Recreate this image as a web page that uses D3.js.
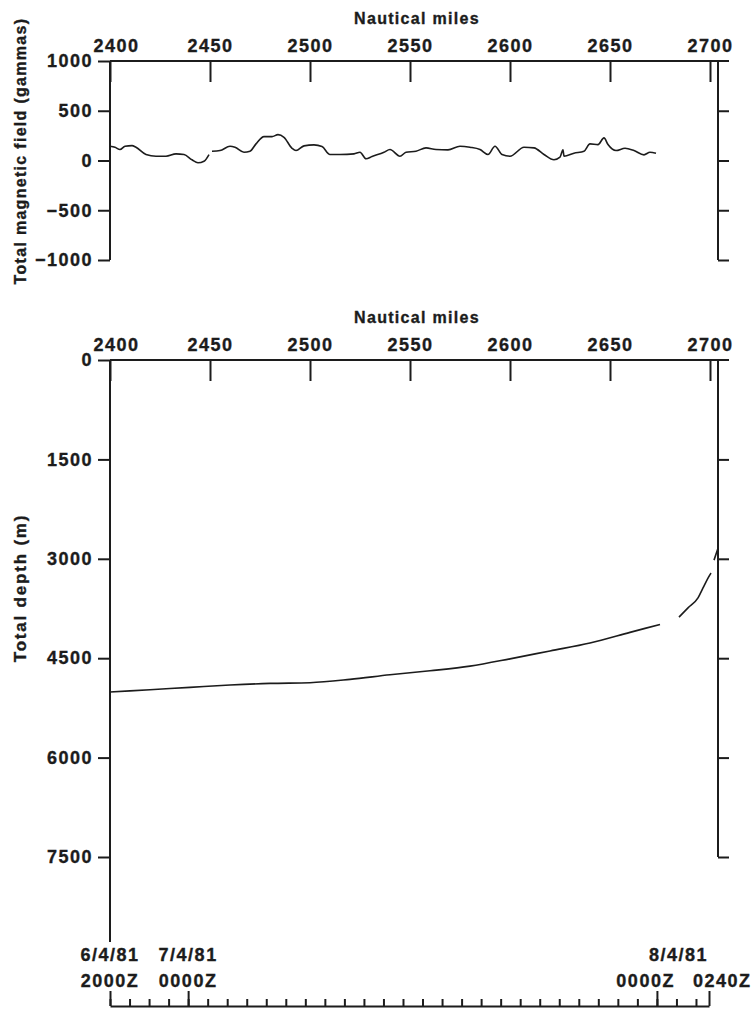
<!DOCTYPE html>
<html lang="en">
<head>
<meta charset="UTF-8">
<title>Magnetics and depth profile</title>
<style>
  body { margin: 0; background: #fff; }
  svg text { font-family: "Liberation Sans", Arial, sans-serif; font-weight: bold; fill: #1c1c1c; stroke: #1c1c1c; stroke-width: 0.35px; }
  .tick-label { font-size: 18px; letter-spacing: 1.5px; }
  .axis-title { font-size: 16px; letter-spacing: 1.3px; }
  .axis path, .axis line, .frame { stroke: #1c1c1c; stroke-width: 2; fill: none; }
  .curve { fill: none; stroke: #1c1c1c; stroke-width: 1.6; }
</style>
</head>
<body>
<div id="chart"></div>
<script src="https://cdn.jsdelivr.net/npm/d3@7"></script>
<script>
// axis ticks
const milesTicks = [2400, 2450, 2500, 2550, 2600, 2650, 2700];
const magTicks = [1000, 500, 0, -500, -1000];
const depthTicks = [0, 1500, 3000, 4500, 6000, 7500];

// total magnetic field (gammas) vs nautical miles, null = gap in record
const magMiles = [2400, 2402.5, 2405, 2407.5, 2411, 2413, 2418, 2423, 2428, 2433, 2437, 2441, 2444, 2447, 2449.5,
  2450.2, 2451, 2455, 2460, 2462.5, 2467, 2470, 2473, 2477, 2481, 2484, 2487, 2491, 2493, 2497, 2502, 2506, 2510,
  2515, 2522, 2525, 2528, 2531, 2537, 2540, 2545, 2548, 2553, 2558, 2563, 2569, 2575, 2580, 2585, 2589, 2592.5,
  2596, 2600, 2607, 2612, 2617, 2622, 2625, 2626.5, 2627, 2632, 2637, 2640, 2644, 2647, 2649, 2653, 2657.5, 2662,
  2667, 2670, 2673];
const magValues = [143, 133, 110, 143, 150, 133, 60, 43, 43, 67, 60, 7, -23, -7, 60,
  null, 93, 100, 143, 133, 83, 93, 167, 240, 240, 260, 233, 123, 100, 147, 157, 140, 60,
  60, 67, 83, 17, 40, 83, 110, 43, 83, 93, 127, 110, 107, 143, 133, 110, 60, 143,
  60, 43, 133, 127, 60, 7, 33, 107, 43, 73, 93, 167, 160, 227, 160, 100, 123, 100,
  57, 83, 73];

// total depth (m) vs nautical miles, null = gap in record
const depthMiles = [2400, 2420, 2440, 2460, 2480, 2500, 2520, 2540, 2560, 2580, 2600, 2620, 2640, 2660, 2675,
  2680, 2684.5, 2689, 2694, 2696.5, 2699, 2700.5, 2701.2, 2702, 2704];
const depthValues = [5010, 4975, 4940, 4905, 4880, 4870, 4820, 4750, 4690, 4620, 4510, 4390, 4270, 4110, 3990,
  null, 3880, 3740, 3590, 3440, 3290, 3215, null, 3020, 2840];

// ship time axis
const timeMarks = ["1981-04-06T20:00Z", "1981-04-07T00:00Z", "1981-04-08T00:00Z", "1981-04-08T02:40Z"].map(d => new Date(d));
const timeDates = ["6/4/81", "7/4/81", "8/4/81", ""];
const timeZulu = ["2000Z", "0000Z", "0000Z", "0240Z"];

const W = 754, H = 1013;
const left = 110, right = 718;
const magTop = 61, magBottom = 260;
const depTop = 360, depBottom = 857, depAxisEnd = 942;
const timeY = 1006;

const svg = d3.select("#chart").append("svg")
  .attr("width", W).attr("height", H);

const x = d3.scaleLinear().domain([2400, 2704]).range([left, right]);
const yMag = d3.scaleLinear().domain([-1000, 1000]).range([magBottom, magTop]);
const yDep = d3.scaleLinear().domain([0, 7500]).range([depTop, depBottom]);
const t = d3.scaleUtc().domain([timeMarks[0], timeMarks[3]]).range([left, 709]);

function milesAxis(y) {
  const g = svg.append("g").attr("class", "axis").attr("transform", `translate(0,${y})`)
    .call(d3.axisTop(x).tickValues(milesTicks).tickSize(-21).tickPadding(9).tickFormat(d3.format("d")));
  g.select(".domain").remove();
  g.selectAll("text").attr("class", "tick-label").attr("font-size", null).attr("font-family", null)
    .attr("dx", d => d === 2400 ? 6 : 0);
  svg.append("line").attr("class", "frame")
    .attr("x1", left).attr("x2", right + 11).attr("y1", y).attr("y2", y);
  svg.append("text").attr("class", "axis-title")
    .attr("x", (left + right) / 2 + 3).attr("y", y - 37)
    .attr("text-anchor", "middle").text("Nautical miles");
}

function leftAxis(scale, ticks, y0, y1) {
  const g = svg.append("g").attr("class", "axis").attr("transform", `translate(${left},0)`)
    .call(d3.axisLeft(scale).tickValues(ticks).tickSize(12).tickSizeOuter(0).tickPadding(5).tickFormat(d3.format("d")));
  g.select(".domain").remove();
  g.selectAll("text").attr("class", "tick-label").attr("font-size", null).attr("font-family", null);
  svg.append("line").attr("class", "frame")
    .attr("x1", left).attr("x2", left).attr("y1", y0).attr("y2", y1);
}

function rightAxis(scale, ticks, y0, y1) {
  const g = svg.append("g").attr("class", "axis").attr("transform", `translate(${right},0)`)
    .call(d3.axisRight(scale).tickValues(ticks).tickSize(11).tickFormat(""));
  g.select(".domain").remove();
  svg.append("line").attr("class", "frame")
    .attr("x1", right).attr("x2", right).attr("y1", y0).attr("y2", y1);
}

// magnetic panel
milesAxis(magTop);
leftAxis(yMag, magTicks, magTop, magBottom);
rightAxis(yMag, magTicks.slice(1), magTop, magBottom);

svg.append("path").attr("class", "curve")
  .datum(magMiles.map((m, i) => [m, magValues[i]]))
  .attr("d", d3.line().defined(d => d[1] !== null).curve(d3.curveMonotoneX)
    .x(d => x(d[0])).y(d => yMag(d[1])));

svg.append("text").attr("class", "axis-title")
  .attr("transform", `translate(20,${(12 + 290) / 2}) rotate(-90)`)
  .attr("text-anchor", "middle").attr("dy", "0.35em")
  .text("Total magnetic field (gammas)");

// depth panel
milesAxis(depTop);
leftAxis(yDep, depthTicks, depTop, depAxisEnd);
rightAxis(yDep, depthTicks.slice(1), depTop, depBottom);

svg.append("path").attr("class", "curve")
  .datum(depthMiles.map((m, i) => [m, depthValues[i]]))
  .attr("d", d3.line().defined(d => d[1] !== null).curve(d3.curveMonotoneX)
    .x(d => x(d[0])).y(d => yDep(d[1])));

svg.append("text").attr("class", "axis-title")
  .attr("transform", `translate(20,588) rotate(-90)`)
  .attr("text-anchor", "middle").attr("dy", "0.35em")
  .style("font-size", "17px").style("letter-spacing", "1.8px")
  .text("Total depth (m)");

// time axis
const tg = svg.append("g").attr("class", "axis").attr("transform", `translate(0,${timeY})`);
tg.call(d3.axisBottom(t).ticks(d3.utcHour.every(1)).tickSize(-7).tickSizeOuter(0).tickFormat(""));
tg.append("g").call(d3.axisBottom(t).tickValues(timeMarks).tickSize(-15).tickSizeOuter(0).tickFormat(""))
  .select(".domain").remove();

const labels = svg.append("g");
labels.selectAll("text.date").data(timeMarks).join("text")
  .attr("class", "tick-label date")
  .attr("x", d => t(d)).attr("y", 961)
  .attr("text-anchor", (d, i) => i === 2 ? "start" : "middle")
  .attr("dx", (d, i) => i === 2 ? -8 : 0)
  .text((d, i) => timeDates[i]);
labels.selectAll("text.zulu").data(timeMarks).join("text")
  .attr("class", "tick-label zulu")
  .attr("x", d => t(d)).attr("y", 987)
  .attr("text-anchor", (d, i) => i === 2 ? "end" : (i === 3 ? "start" : "middle"))
  .attr("dx", (d, i) => i === 2 ? 18 : (i === 3 ? -16 : 0))
  .text((d, i) => timeZulu[i]);
</script>
</body>
</html>
